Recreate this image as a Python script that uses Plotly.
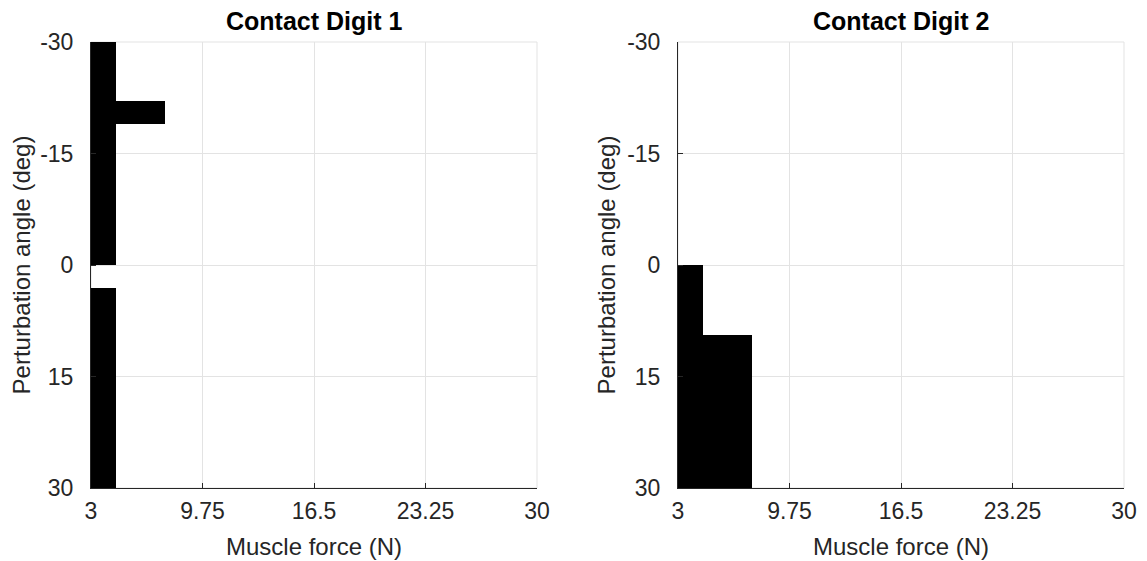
import plotly.graph_objects as go

# ---- data ----
force_levels = [3, 6, 9, 12, 15, 18, 21, 24, 27, 30]
angle_levels = [-30.0, -26.84, -23.68, -20.53, -17.37, -14.21, -11.05, -7.89, -4.74, -1.58,
                1.58, 4.74, 7.89, 11.05, 14.21, 17.37, 20.53, 23.68, 26.84, 30.0]

# rows = angle levels, columns = force levels (1 = contact)
contact_digit1 = [
    [1, 0, 0, 0, 0, 0, 0, 0, 0, 0],
    [1, 0, 0, 0, 0, 0, 0, 0, 0, 0],
    [1, 0, 0, 0, 0, 0, 0, 0, 0, 0],
    [1, 1, 0, 0, 0, 0, 0, 0, 0, 0],
    [1, 0, 0, 0, 0, 0, 0, 0, 0, 0],
    [1, 0, 0, 0, 0, 0, 0, 0, 0, 0],
    [1, 0, 0, 0, 0, 0, 0, 0, 0, 0],
    [1, 0, 0, 0, 0, 0, 0, 0, 0, 0],
    [1, 0, 0, 0, 0, 0, 0, 0, 0, 0],
    [1, 0, 0, 0, 0, 0, 0, 0, 0, 0],
    [0, 0, 0, 0, 0, 0, 0, 0, 0, 0],
    [1, 0, 0, 0, 0, 0, 0, 0, 0, 0],
    [1, 0, 0, 0, 0, 0, 0, 0, 0, 0],
    [1, 0, 0, 0, 0, 0, 0, 0, 0, 0],
    [1, 0, 0, 0, 0, 0, 0, 0, 0, 0],
    [1, 0, 0, 0, 0, 0, 0, 0, 0, 0],
    [1, 0, 0, 0, 0, 0, 0, 0, 0, 0],
    [1, 0, 0, 0, 0, 0, 0, 0, 0, 0],
    [1, 0, 0, 0, 0, 0, 0, 0, 0, 0],
    [1, 0, 0, 0, 0, 0, 0, 0, 0, 0],
]
contact_digit2 = [
    [0, 0, 0, 0, 0, 0, 0, 0, 0, 0],
    [0, 0, 0, 0, 0, 0, 0, 0, 0, 0],
    [0, 0, 0, 0, 0, 0, 0, 0, 0, 0],
    [0, 0, 0, 0, 0, 0, 0, 0, 0, 0],
    [0, 0, 0, 0, 0, 0, 0, 0, 0, 0],
    [0, 0, 0, 0, 0, 0, 0, 0, 0, 0],
    [0, 0, 0, 0, 0, 0, 0, 0, 0, 0],
    [0, 0, 0, 0, 0, 0, 0, 0, 0, 0],
    [0, 0, 0, 0, 0, 0, 0, 0, 0, 0],
    [0, 0, 0, 0, 0, 0, 0, 0, 0, 0],
    [1, 0, 0, 0, 0, 0, 0, 0, 0, 0],
    [1, 0, 0, 0, 0, 0, 0, 0, 0, 0],
    [1, 0, 0, 0, 0, 0, 0, 0, 0, 0],
    [1, 1, 0, 0, 0, 0, 0, 0, 0, 0],
    [1, 1, 0, 0, 0, 0, 0, 0, 0, 0],
    [1, 1, 0, 0, 0, 0, 0, 0, 0, 0],
    [1, 1, 0, 0, 0, 0, 0, 0, 0, 0],
    [1, 1, 0, 0, 0, 0, 0, 0, 0, 0],
    [1, 1, 0, 0, 0, 0, 0, 0, 0, 0],
    [1, 1, 0, 0, 0, 0, 0, 0, 0, 0],
]

x_tick_vals = [3, 9.75, 16.5, 23.25, 30]
x_tick_text = ["3", "9.75", "16.5", "23.25", "30"]
y_tick_vals = [-30, -15, 0, 15, 30]
y_tick_text = ["-30", "-15", "0", "15", "30"]
panel_titles = ["Contact Digit 1", "Contact Digit 2"]
x_label = "Muscle force (N)"
y_label = "Perturbation angle (deg)"

# ---- figure ----
# page body has an 8px margin, so the figure is sized to fit the window
OFF = 8
W, H = 1147 - OFF, 561 - OFF
FONT = "Liberation Sans, Arial, Helvetica, sans-serif"
AXC = "#262626"
GRIDC = "#e3e3e3"

def masked(m):
    return [[1 if v else None for v in row] for row in m]

fig = go.Figure()
for i, mat in enumerate([contact_digit1, contact_digit2]):
    sfx = "" if i == 0 else str(i + 1)
    fig.add_trace(go.Heatmap(
        x=force_levels, y=angle_levels, z=masked(mat),
        colorscale=[[0, "black"], [1, "black"]], zmin=0, zmax=1,
        showscale=False, xaxis="x" + sfx, yaxis="y" + sfx, hoverinfo="skip",
    ))

x_domains = [[(91 - OFF) / W, (537 - OFF) / W], [(678 - OFF) / W, (1124 - OFF) / W]]
y_domain = [1 - (488 - OFF) / H, 1 - (42 - OFF) / H]

common_axis = dict(
    showline=True, linecolor=AXC, linewidth=1,
    ticks="inside", ticklen=5, tickcolor=AXC, tickwidth=1,
    showgrid=True, gridcolor=GRIDC, gridwidth=1, zeroline=False,
    tickfont=dict(family=FONT, size=23, color=AXC),
    layer="above traces", automargin=False,
)

layout = dict(
    width=W, height=H, margin=dict(l=0, r=0, t=0, b=0),
    paper_bgcolor="white", plot_bgcolor="white", showlegend=False,
    font=dict(family=FONT, color=AXC),
)
annotations = []
shapes = []
for i in range(2):
    sfx = "" if i == 0 else str(i + 1)
    layout["xaxis" + sfx] = dict(
        common_axis, domain=x_domains[i], range=[3, 30], anchor="y" + sfx,
        tickvals=x_tick_vals, ticktext=x_tick_text, ticklabelstandoff=2,
        title=dict(text=x_label, font=dict(family=FONT, size=24, color=AXC), standoff=15),
    )
    layout["yaxis" + sfx] = dict(
        common_axis, domain=y_domain, range=[30, -30], anchor="x" + sfx,
        tickvals=y_tick_vals, ticktext=y_tick_text, ticklabelstandoff=12,
        title=dict(text=y_label, font=dict(family=FONT, size=24, color=AXC), standoff=4),
    )
    annotations.append(dict(
        text="<b>" + panel_titles[i] + "</b>", xref="paper", yref="paper",
        x=sum(x_domains[i]) / 2, y=y_domain[1], xanchor="center", yanchor="bottom",
        yshift=5, showarrow=False, font=dict(family=FONT, size=25, color="black"),
    ))
    shapes.append(dict(
        type="rect", xref="x" + sfx + " domain", yref="y" + sfx + " domain",
        x0=0, x1=1, y0=0, y1=1, line=dict(color=GRIDC, width=1), layer="below",
    ))

layout["annotations"] = annotations
layout["shapes"] = shapes
fig.update_layout(**layout)
fig.write_html("out.html")
